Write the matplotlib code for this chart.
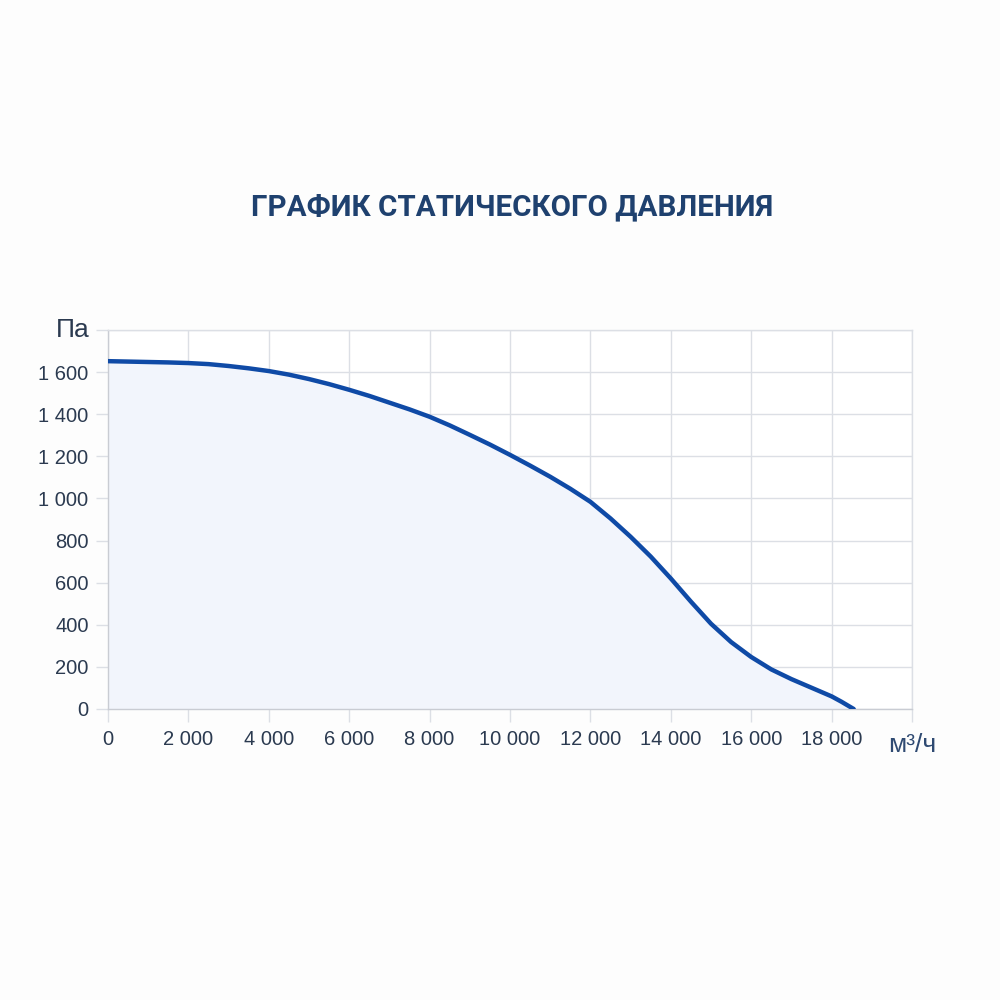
import matplotlib.pyplot as plt
from matplotlib.ticker import FuncFormatter

# airflow, m3/h  and static pressure, Pa
flow = [0, 500, 1000, 1500, 2000, 2500, 3000, 3500, 4000, 4500, 5000, 5500,
        6000, 6500, 7000, 7500, 8000, 8500, 9000, 9500, 10000, 10500, 11000,
        11500, 12000, 12500, 13000, 13500, 14000, 14500, 15000, 15500, 16000,
        16500, 17000, 17500, 18000, 18250, 18550]
pressure = [1652, 1650, 1648, 1646, 1643, 1638, 1629, 1618, 1605, 1588, 1567,
            1543, 1516, 1487, 1455, 1423, 1388, 1347, 1302, 1256, 1207, 1156,
            1103, 1046, 984, 905, 818, 724, 620, 510, 405, 318, 247,
            188, 142, 101, 60, 34, 0]

x_ticks = list(range(0, 20001, 2000))
y_ticks = list(range(0, 1801, 200))

title = "ГРАФИК СТАТИЧЕСКОГО ДАВЛЕНИЯ"
y_unit = "Па"
x_unit = "м³/ч"

line_color = '#0f4aa6'
fill_color = '#f2f5fc'
grid_color = '#dcdfe5'
text_color = '#2b3a50'

fig = plt.figure(figsize=(10, 10), dpi=100)
fig.patch.set_facecolor('#fdfdfd')
ax = fig.add_axes([0.108, 0.291, 0.804, 0.379])
ax.set_facecolor('white')

ax.fill_between(flow, pressure, 0, color=fill_color, zorder=1)
ax.plot(flow, pressure, color=line_color, lw=3.2, solid_capstyle='round',
        solid_joinstyle='round', zorder=3)

ax.set_xlim(0, 20000)
ax.set_ylim(0, 1800)
ax.set_xticks(x_ticks)
ax.set_yticks(y_ticks)

fmt = FuncFormatter(lambda v, p: f"{int(v):,}".replace(",", " "))
# hide the last tick labels, the units go there instead
ax.set_yticklabels([fmt(v, None) for v in y_ticks[:-1]] + [''])
ax.set_xticklabels([fmt(v, None) for v in x_ticks[:-1]] + [''])

ax.grid(True, color=grid_color, lw=1, zorder=0)
for s in ax.spines.values():
    s.set_color(grid_color)
    s.set_linewidth(1)
ax.spines['left'].set_color('#c9ccd3')
ax.spines['bottom'].set_color('#c9ccd3')

ax.tick_params(axis='both', colors=grid_color, labelcolor=text_color,
               labelsize=14.5, length=9, width=1)
ax.tick_params(axis='y', pad=5)
ax.tick_params(axis='x', pad=6)
for lab in ax.get_xticklabels() + ax.get_yticklabels():
    lab.set_fontfamily('Liberation Sans')
ax.set_axisbelow(True)

fig.text(0.512, 0.793, title, ha='center', va='center', fontsize=21.3,
         fontweight='bold', color='#1f416f', family='Roboto')
fig.text(0.090, 0.670, y_unit, ha='right', va='center', fontsize=19,
         color=text_color, family='Liberation Sans')
fig.text(0.912, 0.255, x_unit, ha='center', va='center', fontsize=19,
         color='#2f4a72', family='Liberation Sans')

fig.savefig('out.png', dpi=100, facecolor=fig.get_facecolor())
